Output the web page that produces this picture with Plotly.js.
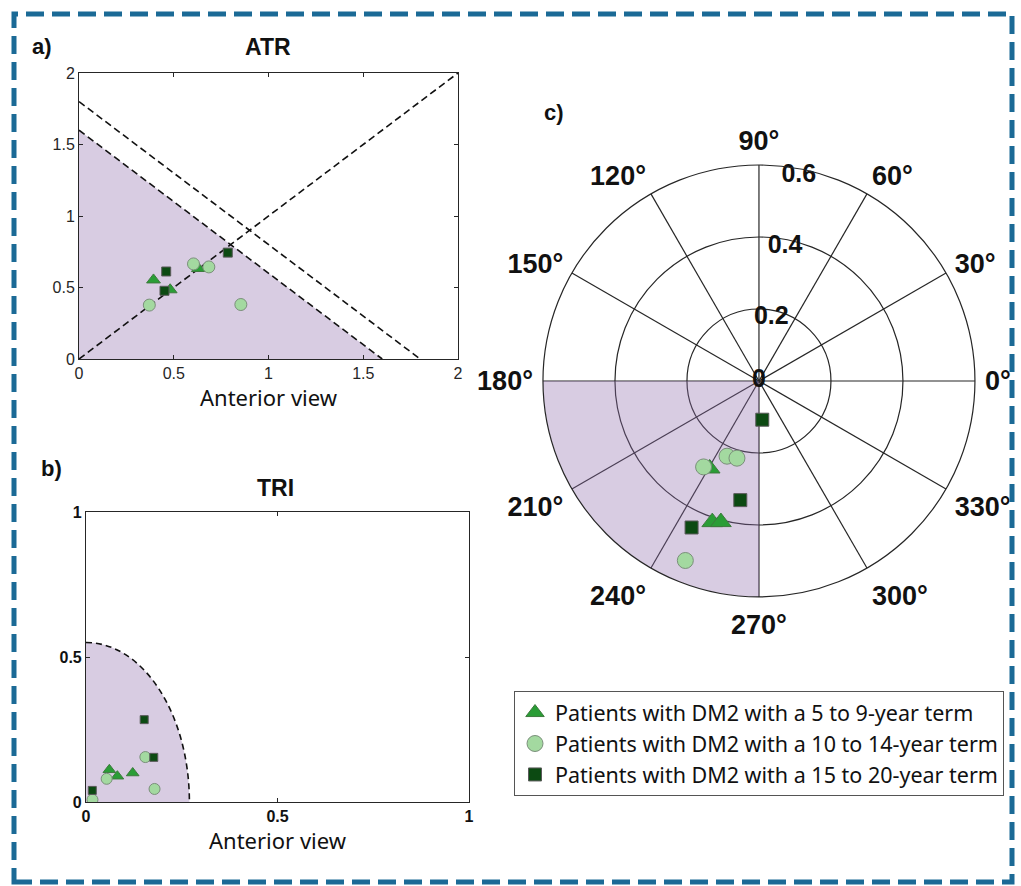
<!DOCTYPE html>
<html>
<head>
<meta charset="utf-8">
<script src="https://cdn.plot.ly/plotly-3.0.1.min.js"></script>
<style>html,body{margin:0;padding:0;background:#fff;}#chart{width:1021px;height:886px;}</style>
</head>
<body>
<div id="chart"></div>
<script>
// ---------- data ----------
const groupNames = [
  'Patients with DM2 with a 5 to 9-year term',
  'Patients with DM2 with a 10 to 14-year term',
  'Patients with DM2 with a 15 to 20-year term'
];

// a) ATR
const atrTriX = [0.393, 0.481, 0.630];
const atrTriY = [0.553, 0.484, 0.633];
const atrCirX = [0.371, 0.604, 0.685, 0.854];
const atrCirY = [0.377, 0.665, 0.644, 0.381];
const atrSqX = [0.460, 0.451, 0.785];
const atrSqY = [0.612, 0.477, 0.744];
const atrInnerLimit = 1.6;
const atrOuterLimit = 1.8;
const atrRange = [0, 2];
const atrTicks = [0, 0.5, 1, 1.5, 2];
const atrTickText = ['0', '0.5', '1', '1.5', '2'];

// b) TRI
const triTriX = [0.061, 0.082, 0.122];
const triTriY = [0.111, 0.089, 0.100];
const triCirX = [0.017, 0.054, 0.155, 0.179];
const triCirY = [0.008, 0.080, 0.155, 0.045];
const triSqX = [0.0165, 0.152, 0.177];
const triSqY = [0.040, 0.284, 0.154];
const triLimitX = 0.27;
const triLimitY = 0.55;
const triRange = [0, 1];
const triTicks = [0, 0.5, 1];
const triTickText = ['0', '0.5', '1'];

// c) polar
const polTriR = [0.279, 0.413, 0.406];
const polTriTheta = [240.6, 251.7, 254.9];
const polCirR = [0.227, 0.223, 0.284, 0.539];
const polCirTheta = [247.0, 254.1, 237.2, 247.7];
const polSqR = [0.108, 0.335, 0.448];
const polSqTheta = [274.9, 261.1, 245.3];
const polSectorR = 0.6;
const polSectorFrom = 180;
const polSectorTo = 270;
const polRadialTicks = [0, 0.2, 0.4, 0.6];
const polRadialText = ['0', '0.2', '0.4', '0.6'];
const polRadialLabelAngle = 79;
const polRadialLabelInset = 0.02;
const polAngleTicks = [0, 30, 60, 90, 120, 150, 180, 210, 240, 270, 300, 330];
const polAngleText = polAngleTicks.map(v => v + '°');

// ---------- styles ----------
const purpleSolid = '#d8cce2';
const purpleAlpha = 'rgba(144,109,172,0.35)';
const axisCol = '#262626';
const styles = [
  {symbol: 'triangle-up', color: '#2a9d36', line: '#3d7a3d'},
  {symbol: 'circle', color: '#a3d9a0', line: '#7a8f7a'},
  {symbol: 'square', color: '#0c4a12', line: '#5a5a5a'}
];
const sizesA = [12, 12, 9];
const sizesB = [11, 11, 8];
const sizesC = [18, 16, 13];

function mk(i, size) {
  return {symbol: styles[i].symbol, color: styles[i].color, size: size,
          line: {color: styles[i].line, width: 1}};
}

const traces = [];
// ATR fill region and lines
traces.push({x: [0, 0, atrInnerLimit], y: [0, atrInnerLimit, 0], xaxis: 'x', yaxis: 'y',
  type: 'scatter', mode: 'none', fill: 'toself', fillcolor: purpleSolid, showlegend: false, hoverinfo: 'skip'});
const dashLine = {color: '#111', width: 1.6, dash: '7px,4px'};
traces.push({x: atrRange, y: atrRange, xaxis: 'x', yaxis: 'y', type: 'scatter', mode: 'lines', line: dashLine, showlegend: false, hoverinfo: 'skip'});
traces.push({x: [0, atrInnerLimit], y: [atrInnerLimit, 0], xaxis: 'x', yaxis: 'y', type: 'scatter', mode: 'lines', line: dashLine, showlegend: false, hoverinfo: 'skip'});
traces.push({x: [0, atrOuterLimit], y: [atrOuterLimit, 0], xaxis: 'x', yaxis: 'y', type: 'scatter', mode: 'lines', line: dashLine, showlegend: false, hoverinfo: 'skip'});

const atrX = [atrTriX, atrCirX, atrSqX], atrY = [atrTriY, atrCirY, atrSqY];
const triX = [triTriX, triCirX, triSqX], triY = [triTriY, triCirY, triSqY];
const polR = [polTriR, polCirR, polSqR], polT = [polTriTheta, polCirTheta, polSqTheta];

for (let i = 0; i < 3; i++) {
  traces.push({x: atrX[i], y: atrY[i], xaxis: 'x', yaxis: 'y', type: 'scatter', mode: 'markers',
    marker: mk(i, sizesA[i]), legendgroup: 'g' + i, showlegend: false, name: groupNames[i]});
  traces.push({x: triX[i], y: triY[i], xaxis: 'x2', yaxis: 'y2', type: 'scatter', mode: 'markers',
    marker: mk(i, sizesB[i]), legendgroup: 'g' + i, showlegend: false, name: groupNames[i]});
}

// polar sector
traces.push({type: 'barpolar', r: [polSectorR], theta: [(polSectorFrom + polSectorTo) / 2],
  width: [polSectorTo - polSectorFrom], base: [0],
  marker: {color: purpleAlpha, line: {width: 0}}, showlegend: false, hoverinfo: 'skip'});
// radial tick labels placed along the radial label angle (drawn through the polar scale)
traces.push({type: 'scatterpolar', r: polRadialTicks.map(v => Math.max(0, v - polRadialLabelInset)),
  theta: polRadialTicks.map(() => polRadialLabelAngle),
  mode: 'text', text: polRadialText, textposition: 'middle center',
  textfont: {family: 'Liberation Sans, Arial, sans-serif', size: 25, color: '#111', weight: 'bold'},
  showlegend: false, hoverinfo: 'skip', cliponaxis: false});
for (let i = 0; i < 3; i++) {
  traces.push({type: 'scatterpolar', r: polR[i], theta: polT[i], mode: 'markers',
    marker: mk(i, sizesC[i]), legendgroup: 'g' + i, showlegend: true, name: groupNames[i]});
}

const tickFontA = {family: 'Liberation Sans, Arial, sans-serif', size: 16, color: axisCol};
const tickFontB = {family: 'Liberation Sans, Arial, sans-serif', size: 16, color: '#111', weight: 'bold'};
const titleFont = {family: 'Noto Sans, sans-serif', size: 22, color: '#111'};

function cartAxis(domain, range, ticks, text, font, extra) {
  return Object.assign({domain: domain, range: range, tickmode: 'array', tickvals: ticks, ticktext: text,
    ticks: 'inside', ticklen: 4, tickcolor: axisCol, showline: true, linecolor: axisCol, linewidth: 1,
    mirror: 'ticks', showgrid: false, zeroline: false, tickfont: font, fixedrange: true}, extra || {});
}

const bold = {family: 'Liberation Sans, Arial, sans-serif', color: '#111', weight: 'bold'};
function ann(text, x, y, size) {
  return {text: text, x: x, y: y, xref: 'paper', yref: 'paper', showarrow: false,
    xanchor: 'center', yanchor: 'middle', font: Object.assign({size: size}, bold)};
}

// TRI limit: quarter ellipse via cubic bezier (k = 0.5523)
const k = 0.5523;
const triCurve = 'M0,' + triLimitY + ' C' + (k * triLimitX) + ',' + triLimitY + ' ' + triLimitX + ',' + (k * triLimitY) + ' ' + triLimitX + ',0';
const triFill = 'M0,0 L0,' + triLimitY + ' C' + (k * triLimitX) + ',' + triLimitY + ' ' + triLimitX + ',' + (k * triLimitY) + ' ' + triLimitX + ',0 Z';

const layout = {
  width: 1021, height: 886,
  margin: {l: 0, r: 0, t: 0, b: 0, autoexpand: false},
  paper_bgcolor: '#fff', plot_bgcolor: '#fff',
  showlegend: true,
  legend: {x: 514 / 1021, y: 0.22, xanchor: 'left', yanchor: 'top', bordercolor: '#555', borderwidth: 1,
    bgcolor: '#fff', font: {family: 'Noto Sans, sans-serif', size: 21.5, color: '#111'},
    itemsizing: 'trace', tracegroupgap: 0},
  xaxis: cartAxis([0.0774, 0.4486], atrRange, atrTicks, atrTickText, tickFontA,
    {anchor: 'y', title: {text: 'Anterior view', font: titleFont, standoff: 8}}),
  yaxis: cartAxis([0.5948, 0.9176], atrRange, atrTicks, atrTickText, tickFontA, {anchor: 'x'}),
  xaxis2: cartAxis([0.0842, 0.4594], triRange, triTicks, triTickText, tickFontB,
    {anchor: 'y2', title: {text: 'Anterior view', font: titleFont, standoff: 2}}),
  yaxis2: cartAxis([0.0948, 0.4221], triRange, triTicks, triTickText, tickFontB, {anchor: 'x2'}),
  polar: {
    domain: {x: [0.5318, 0.9549], y: [0.3262, 0.8138]},
    bgcolor: '#fff',
    angularaxis: {rotation: 0, direction: 'counterclockwise', tickmode: 'array', tickvals: polAngleTicks,
      ticktext: polAngleText, ticks: 'outside', ticklen: 4, tickcolor: 'rgba(0,0,0,0)',
      showline: true, linecolor: axisCol, linewidth: 1.2,
      gridcolor: axisCol, gridwidth: 1.2,
      tickfont: {family: 'Liberation Sans, Arial, sans-serif', size: 27, color: '#111', weight: 'bold'}},
    radialaxis: {range: [0, polSectorR], tickmode: 'array', tickvals: polRadialTicks,
      showticklabels: false, showline: false, ticks: '', gridcolor: axisCol, gridwidth: 1.2, angle: 90}
  },
  shapes: [
    {type: 'path', xref: 'x2', yref: 'y2', path: triFill, fillcolor: purpleSolid, line: {width: 0}, layer: 'below'},
    {type: 'path', xref: 'x2', yref: 'y2', path: triCurve, line: {color: '#111', width: 1.6, dash: '6px,4px'}},
    {type: 'rect', xref: 'paper', yref: 'paper', x0: 14 / 1021, x1: 1012 / 1021, y0: 1 - 882 / 886, y1: 1 - 14 / 886,
      line: {color: '#1b6a96', width: 5, dash: '18px,8px'}}
  ],
  annotations: [
    ann('a)', 42 / 1021, 1 - 47 / 886, 22),
    ann('b)', 51 / 1021, 1 - 468 / 886, 22),
    ann('c)', 554 / 1021, 1 - 112 / 886, 22),
    ann('ATR', 268 / 1021, 1 - 47 / 886, 23),
    ann('TRI', 275 / 1021, 1 - 488 / 886, 23)
  ]
};

Plotly.newPlot('chart', traces, layout, {displayModeBar: false, staticPlot: true});
</script>
</body>
</html>
